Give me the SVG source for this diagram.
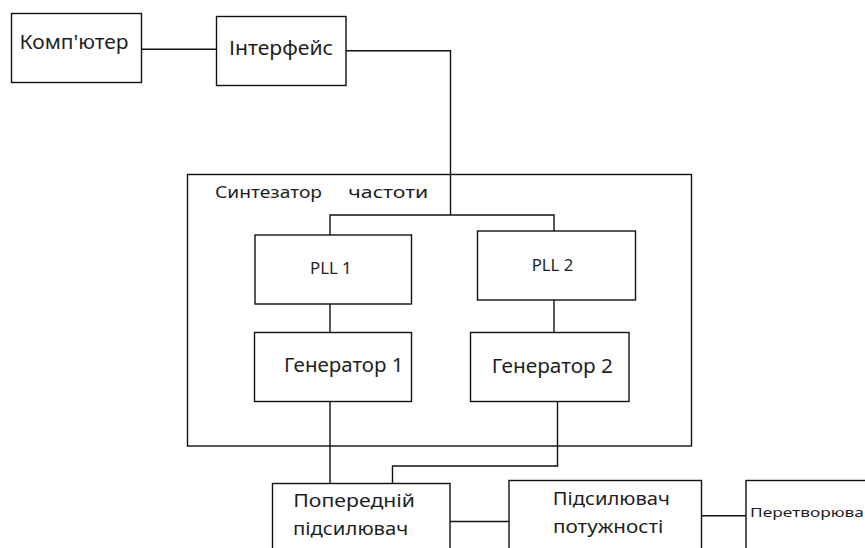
<svg xmlns="http://www.w3.org/2000/svg" width="865" height="548" viewBox="0 0 865 548">
<style>
.box{fill:#fff;stroke:#111;stroke-width:1.4}
.frame{fill:none;stroke:#111;stroke-width:1.4}
.wire{fill:none;stroke:#111;stroke-width:1.4}
text{font-family:"Noto Sans","DejaVu Sans",sans-serif;fill:#1e1e1e}
.t20{font-size:19px}
.t18{font-size:18px}
.t17{font-size:16.5px}
.t13{font-size:13px}
</style>
<rect width="865" height="548" fill="#fff"/>
<g id="synth">
<rect class="frame" x="187.5" y="174.5" width="504" height="271.5"/>
<text class="t17" x="215" y="198.3" textLength="107" lengthAdjust="spacingAndGlyphs">Синтезатор</text>
<text class="t17" x="348.3" y="198.3" textLength="80" lengthAdjust="spacingAndGlyphs">частоти</text>
</g>
<g id="connectors">
<polyline class="wire" points="142,49.3 216.5,49.3"/>
<polyline class="wire" points="343,50.7 450.5,50.7 450.5,215"/>
<polyline class="wire" points="330,235 330,215 554,215 554,231"/>
<polyline class="wire" points="330,304 330,332.5"/>
<polyline class="wire" points="554,300 554,332.5"/>
<polyline class="wire" points="330,401.5 330,483.5"/>
<polyline class="wire" points="557.5,401.5 557.5,466 392.5,466 392.5,483.5"/>
<polyline class="wire" points="450,521.5 511,521.5"/>
<polyline class="wire" points="701.5,515.7 746,515.7"/>
</g>
<g id="computer">
<rect class="box" x="11.5" y="13.5" width="130" height="69"/>
<text class="t20" x="19.5" y="49" textLength="109" lengthAdjust="spacingAndGlyphs">Комп'ютер</text>
</g>
<g id="interface">
<rect class="box" x="216.5" y="16.5" width="129.5" height="69"/>
<text class="t20" x="229" y="55" textLength="104" lengthAdjust="spacingAndGlyphs">Інтерфейс</text>
</g>
<g id="pll1">
<rect class="box" x="255" y="235" width="156.5" height="69"/>
<text class="t17" x="310" y="274" textLength="41.7" lengthAdjust="spacingAndGlyphs">PLL 1</text>
</g>
<g id="pll2">
<rect class="box" x="477.5" y="231" width="158" height="69"/>
<text class="t17" x="531.7" y="271" textLength="41.6" lengthAdjust="spacingAndGlyphs">PLL 2</text>
</g>
<g id="gen1">
<rect class="box" x="254.5" y="332.5" width="157" height="69"/>
<text class="t20" x="284" y="372" textLength="119.5" lengthAdjust="spacingAndGlyphs">Генератор 1</text>
</g>
<g id="gen2">
<rect class="box" x="470.5" y="332.5" width="158.5" height="69"/>
<text class="t20" x="491.7" y="372.5" textLength="121.3" lengthAdjust="spacingAndGlyphs">Генератор 2</text>
</g>
<g id="preamp">
<rect class="box" x="272.5" y="483.5" width="177.5" height="80"/>
<text class="t18" x="293.3" y="506.7" textLength="121.7" lengthAdjust="spacingAndGlyphs">Попередній</text>
<text class="t18" x="293" y="535" textLength="115.3" lengthAdjust="spacingAndGlyphs">підсилювач</text>
</g>
<g id="poweramp">
<rect class="box" x="509" y="480.5" width="192.5" height="80"/>
<text class="t18" x="552.7" y="505" textLength="117.3" lengthAdjust="spacingAndGlyphs">Підсилювач</text>
<text class="t18" x="553" y="533.3" textLength="110.3" lengthAdjust="spacingAndGlyphs">потужності</text>
</g>
<g id="converter">
<rect class="box" x="746" y="480.5" width="140" height="80"/>
<text class="t13" x="750" y="517.3" textLength="114" lengthAdjust="spacingAndGlyphs">Перетворюва</text>
</g>
</svg>
